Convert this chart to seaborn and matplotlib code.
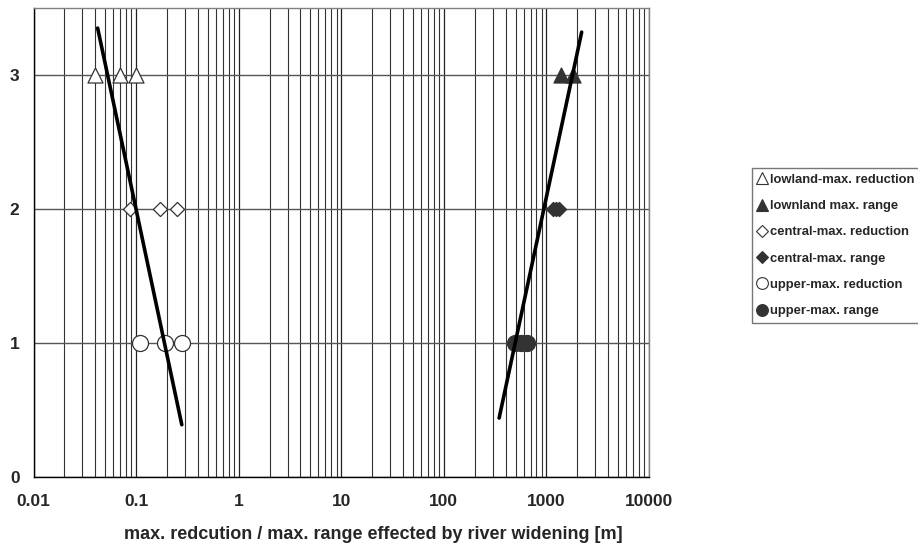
import numpy as np
import pandas as pd
import matplotlib
matplotlib.use("Agg")
import matplotlib.pyplot as plt
from matplotlib.lines import Line2D
from matplotlib.ticker import LogLocator, FixedLocator, FixedFormatter, NullFormatter
import seaborn as sns

# ---------------- data ----------------
series_labels = ["lowland-max. reduction", "lownland max. range",
                 "central-max. reduction", "central-max. range",
                 "upper-max. reduction", "upper-max. range"]
lowland_red_x = [0.04, 0.07, 0.10]
lowland_rng_x = [1400, 1800]
central_red_x = [0.087, 0.17, 0.25]
central_rng_x = [1170, 1250, 1330]
upper_red_x = [0.11, 0.19, 0.28]
upper_rng_x = [490, 570, 650]
lowland_y = 3
central_y = 2
upper_y = 1

trend_red_x = [0.0422, 0.279]
trend_red_y = [3.35, 0.39]
trend_rng_x = [346, 2206]
trend_rng_y = [0.44, 3.32]

x_tick_values = [0.01, 0.1, 1, 10, 100, 1000, 10000]
x_tick_labels = ["0.01", "0.1", "1", "10", "100", "1000", "10000"]
y_tick_values = [0, 1, 2, 3]
x_label = "max. redcution / max. range effected by river widening [m]"

# ---------------- style ----------------
sns.set_theme(style="white")
plt.rcParams["font.family"] = ["Liberation Sans", "DejaVu Sans"]
plt.rcParams["font.weight"] = "bold"

DARK = "#333333"
styles = {
    "lowland-max. reduction": dict(marker="^", fc="white", s=117),
    "lownland max. range": dict(marker="^", fc=DARK, s=117),
    "central-max. reduction": dict(marker="D", fc="white", s=52),
    "central-max. range": dict(marker="D", fc=DARK, s=52),
    "upper-max. reduction": dict(marker="o", fc="white", s=133),
    "upper-max. range": dict(marker="o", fc=DARK, s=133),
}
series_x = [lowland_red_x, lowland_rng_x, central_red_x, central_rng_x, upper_red_x, upper_rng_x]
series_y = [lowland_y, lowland_y, central_y, central_y, upper_y, upper_y]

frames = []
for lab, xs, yv in zip(series_labels, series_x, series_y):
    frames.append(pd.DataFrame({"series": lab, "x": xs, "y": [yv] * len(xs)}))
df = pd.concat(frames, ignore_index=True)

fig = plt.figure(figsize=(9.18, 5.54), dpi=100)
ax = fig.add_axes([33.5 / 918, 1 - 477 / 554, (649 - 33.5) / 918, (477 - 8) / 554])

ax.set_xscale("log")
ax.set_xlim(0.01, 10000)
ax.set_ylim(0, 3.5)

for lab in series_labels:
    st = styles[lab]
    sub = df[df["series"] == lab]
    sns.scatterplot(data=sub, x="x", y="y", ax=ax, marker=st["marker"], s=st["s"],
                    color=st["fc"], edgecolor=DARK, linewidth=0.9, zorder=3, legend=False)

tr = pd.DataFrame({"x": trend_red_x, "y": trend_red_y})
trg = pd.DataFrame({"x": trend_rng_x, "y": trend_rng_y})
sns.lineplot(data=tr, x="x", y="y", ax=ax, color="black", lw=2.6, sort=False,
             estimator=None, zorder=4, legend=False)
sns.lineplot(data=trg, x="x", y="y", ax=ax, color="black", lw=2.6, sort=False,
             estimator=None, zorder=4, legend=False)

# ticks & grid
ax.xaxis.set_major_locator(FixedLocator(x_tick_values))
ax.xaxis.set_major_formatter(FixedFormatter(x_tick_labels))
ax.xaxis.set_minor_locator(LogLocator(base=10, subs=np.arange(2, 10)))
ax.xaxis.set_minor_formatter(NullFormatter())
ax.set_yticks(y_tick_values)
ax.set_yticklabels([str(v) for v in y_tick_values])

ax.grid(False)
ax.grid(True, which="major", axis="x", color="#222222", lw=0.9, zorder=1)
ax.grid(True, which="minor", axis="x", color="#333333", lw=0.8, zorder=1)
ax.grid(True, which="major", axis="y", color="#555555", lw=1.0, zorder=1)

ax.tick_params(axis="x", which="major", direction="out", length=4, width=0.8,
               color="black", pad=8, labelsize=12.5)
ax.tick_params(axis="x", which="minor", length=0)
ax.tick_params(axis="y", which="major", direction="out", length=4, width=0.8,
               color="black", pad=6, labelsize=12.5)
for lbl in ax.get_xticklabels() + ax.get_yticklabels():
    lbl.set_fontweight("bold")

for side in ["left", "bottom"]:
    ax.spines[side].set_color("black")
    ax.spines[side].set_linewidth(1.0)
for side in ["top", "right"]:
    ax.spines[side].set_color("#808080")
    ax.spines[side].set_linewidth(1.0)

ax.set_xlabel(x_label, fontsize=13, fontweight="bold", labelpad=12)
ax.xaxis.set_label_coords((373 - 33.5) / 615.5, -0.105)
ax.set_ylabel("")

# legend
handles = []
for lab in series_labels:
    st = styles[lab]
    ms = {"^": 8.5, "D": 6.3, "o": 8.5}[st["marker"]]
    handles.append(Line2D([], [], ls="none", marker=st["marker"], markersize=ms,
                          markerfacecolor=st["fc"], markeredgecolor=DARK, markeredgewidth=0.8))
leg = fig.legend(handles, series_labels, loc="upper left",
                 bbox_to_anchor=(752 / 918, 1 - 168 / 554), bbox_transform=fig.transFigure,
                 frameon=True, fancybox=False, borderaxespad=0, borderpad=0.45,
                 handlelength=0.7, handletextpad=0.2, labelspacing=1.08,
                 prop={"family": ["Liberation Sans", "DejaVu Sans"], "weight": "bold", "size": 9.4})
leg.get_frame().set_edgecolor("#555555")
leg.get_frame().set_linewidth(1.0)

fig.savefig("out.png", dpi=100)
